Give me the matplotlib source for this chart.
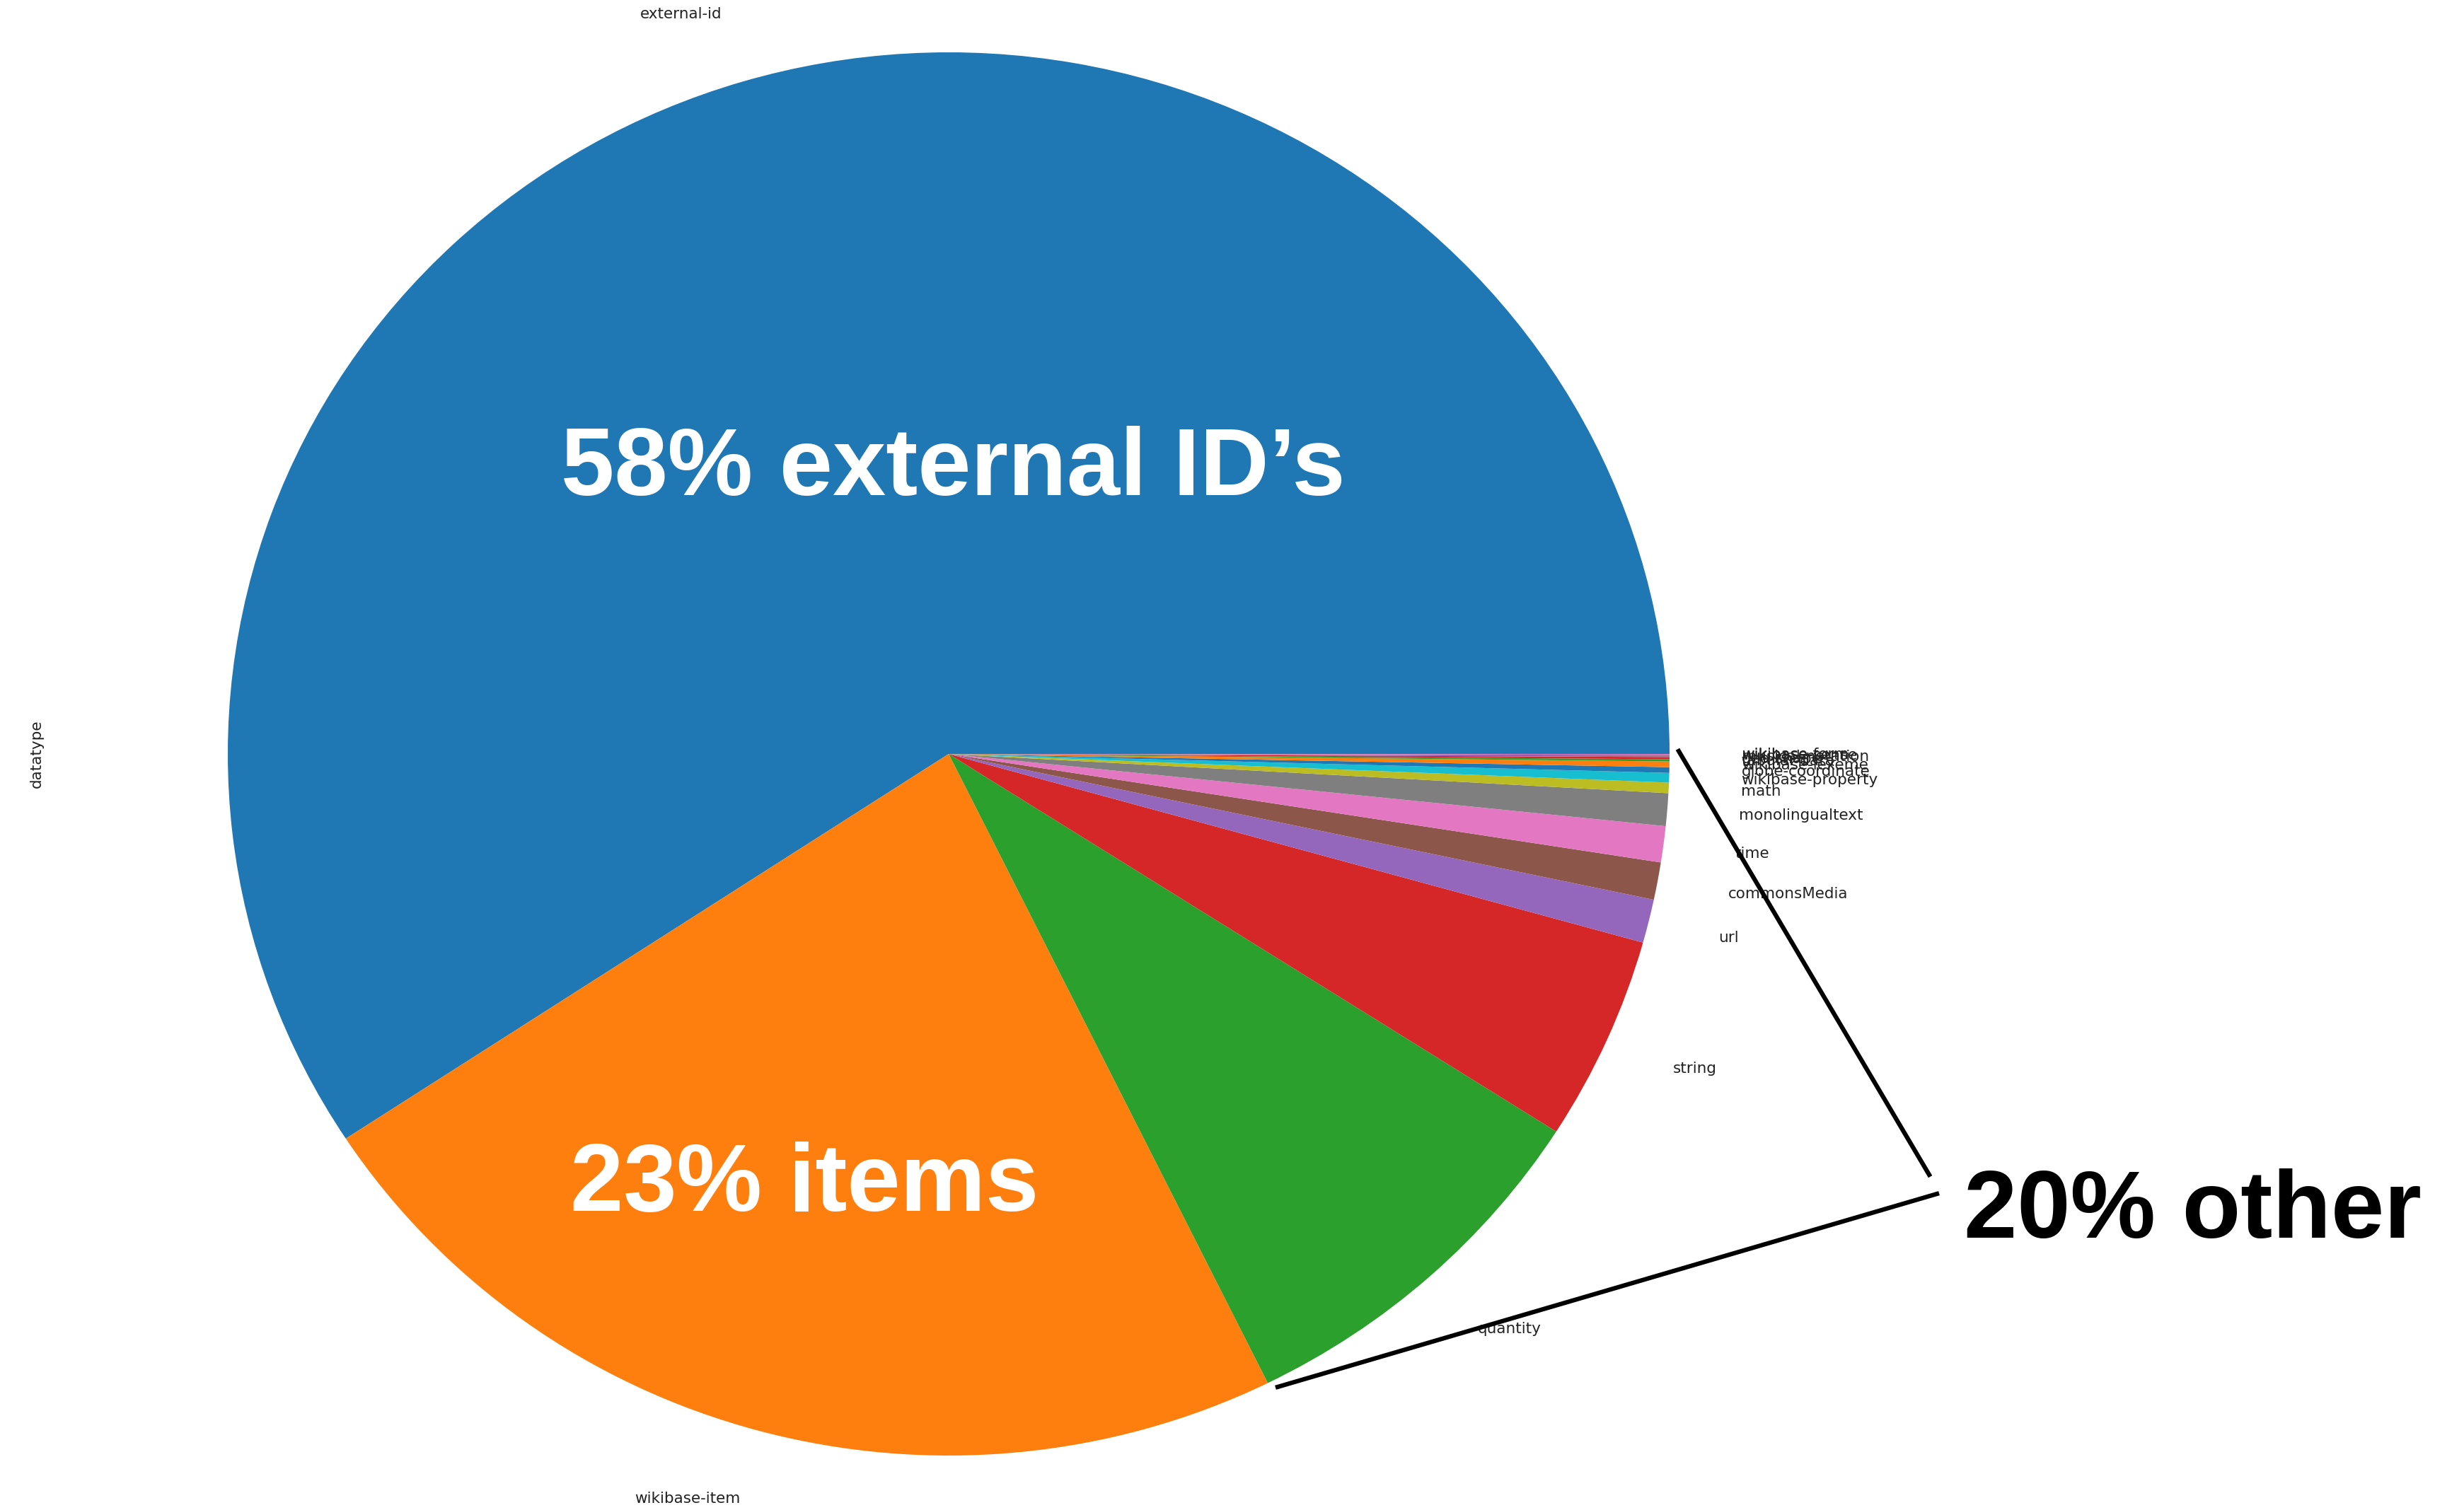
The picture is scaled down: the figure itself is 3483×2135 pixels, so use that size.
import matplotlib
matplotlib.use('Agg')
import matplotlib.pyplot as plt
from matplotlib.lines import Line2D

# share of Wikidata properties per datatype (percent)
datatypes = ['external-id', 'wikibase-item', 'quantity', 'string', 'url',
             'commonsMedia', 'time', 'monolingualtext', 'math',
             'wikibase-property', 'globe-coordinate', 'wikibase-lexeme',
             'tabular-data', 'geo-shape', 'musical-notation',
             'wikibase-sense', 'wikibase-form']
shares = [59.2, 23.05, 8.65, 4.71, 1.0,
          0.86, 0.83, 0.75, 0.24,
          0.22, 0.13, 0.13,
          0.05, 0.05, 0.03,
          0.02, 0.02]

W, H = 3483, 2135
fig = plt.figure(figsize=(W / 100, H / 100), dpi=100)

# pie center and radii in pixels (the original is slightly stretched)
cx, cy, rx, ry = 1341, 1066, 1019, 992
ax = fig.add_axes([0, 0, 1, 1])
colors = plt.rcParams['axes.prop_cycle'].by_key()['color']
ax.pie(shares, labels=datatypes, startangle=0, colors=colors,
       textprops={'fontsize': 15.5, 'color': '#222222'})
ax.set_aspect('auto')
ax.set_xlim(-1.25, 1.25)
ax.set_ylim(-1.25, 1.25)
ax.set_position([(cx - 1.25 * rx) / W, (H - cy - 1.25 * ry) / H,
                 2.5 * rx / W, 2.5 * ry / H])
ax.set_ylabel('datatype', fontsize=15.5, color='#222222')

# big overlay annotations
big = dict(fontsize=97.5, fontweight='bold', family=['Liberation Sans', 'DejaVu Sans'])
fig.text(793 / W, 1 - 700 / H, '58% external ID\u2019s', color='white',
         ha='left', va='baseline', **big)
fig.text(806 / W, 1 - 1712 / H, '23% items', color='white',
         ha='left', va='baseline', **big)
fig.text(2776 / W, 1 - 1750 / H, '20% other', color='black',
         ha='left', va='baseline', **big)

# bracket lines pointing at the "other" slices
for (x0, y0), (x1, y1) in [((2373, 1062), (2727, 1661)),
                           ((1806, 1961), (2738, 1688))]:
    fig.add_artist(Line2D([x0 / W, x1 / W], [1 - y0 / H, 1 - y1 / H],
                          transform=fig.transFigure, color='black',
                          linewidth=4.5))

plt.savefig('out.png', dpi=100)
